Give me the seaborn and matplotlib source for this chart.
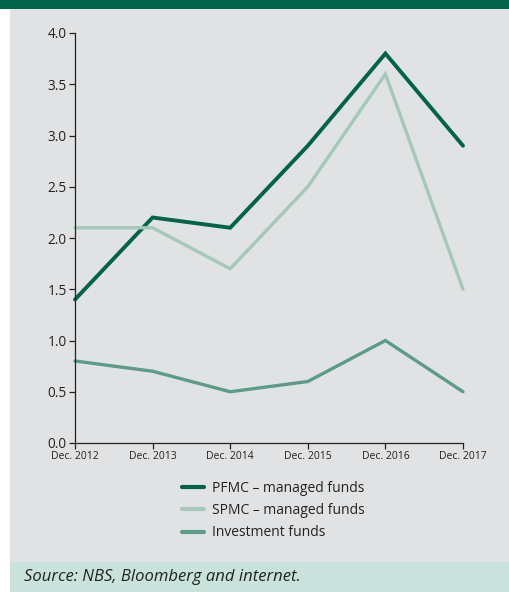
import matplotlib
matplotlib.use("Agg")
import matplotlib.pyplot as plt
import matplotlib.patches as mpatches
import seaborn as sns
import pandas as pd

years = ["Dec. 2012", "Dec. 2013", "Dec. 2014", "Dec. 2015", "Dec. 2016", "Dec. 2017"]
pfmc = [1.4, 2.2, 2.1, 2.9, 3.8, 2.9]
spmc = [2.1, 2.1, 1.7, 2.5, 3.6, 1.5]
invest = [0.8, 0.7, 0.5, 0.6, 1.0, 0.5]
series_names = ["PFMC \u2013 managed funds", "SPMC \u2013 managed funds", "Investment funds"]
y_ticks = [0.0, 0.5, 1.0, 1.5, 2.0, 2.5, 3.0, 3.5, 4.0]

colors = ["#006548", "#a4c8bb", "#5a9c87"]
widths = [2.8, 2.4, 2.4]

sns.set_theme(style="ticks")
plt.rcParams["font.family"] = ["Open Sans", "DejaVu Sans"]

df = pd.DataFrame({
    "x": list(range(len(years))) * 3,
    "value": pfmc + spmc + invest,
    "series": [series_names[0]] * 6 + [series_names[1]] * 6 + [series_names[2]] * 6,
})

W, H = 509, 592
fig = plt.figure(figsize=(W / 100, H / 100), dpi=100)
fig.patch.set_facecolor("white")

bg = "#e0e2e4"
# panel background
fig.patches.append(mpatches.Rectangle((10 / W, 0), 1 - 10 / W, 1, transform=fig.transFigure,
                                      facecolor=bg, edgecolor="none", zorder=-2))
# header band
fig.patches.append(mpatches.Rectangle((0, 1 - 9 / H), 1, 9 / H, transform=fig.transFigure,
                                      facecolor="#00654a", edgecolor="none", zorder=-1))
# source band
fig.patches.append(mpatches.Rectangle((10 / W, 0), 1 - 10 / W, 30 / H, transform=fig.transFigure,
                                      facecolor="#c9e2dc", edgecolor="none", zorder=-1))

ax = fig.add_axes([75 / W, 1 - 443 / H, (463 - 75) / W, (443 - 33) / H])
ax.set_zorder(5)
ax.set_facecolor("none")

sns.lineplot(data=df, x="x", y="value", hue="series", hue_order=series_names,
             palette=colors, ax=ax, legend=False, estimator=None, sort=False)
for line, lw in zip(ax.lines, widths):
    line.set_linewidth(lw)
    line.set_solid_joinstyle("miter")
    line.set_solid_capstyle("round")
    line.set_clip_on(False)

ax.set_xlim(0, len(years) - 1)
ax.set_ylim(0, 4.0)
ax.set_xticks(range(len(years)))
ax.set_xticklabels(years, fontsize=7.5, color="#222222")
ax.set_yticks(y_ticks)
ax.set_yticklabels([f"{v:.1f}" for v in y_ticks], fontsize=9.8, color="#222222")
ax.set_xlabel("")
ax.set_ylabel("")
for s in ["top", "right"]:
    ax.spines[s].set_visible(False)
for s in ["left", "bottom"]:
    ax.spines[s].set_color("#222222")
    ax.spines[s].set_linewidth(0.9)
ax.tick_params(axis="both", length=4, width=0.9, color="#222222", direction="out")
ax.tick_params(axis="x", pad=2)
ax.tick_params(axis="y", pad=2)

handles = [plt.Line2D([0], [0], color=c, lw=3) for c in colors]
leg = fig.legend(handles, series_names, loc="upper left", bbox_to_anchor=(182 / W, 1 - 481 / H),
                 frameon=False, fontsize=10, handlelength=1.6, handletextpad=0.55,
                 labelspacing=0.52, borderaxespad=0, borderpad=0)
for t in leg.get_texts():
    t.set_color("#222222")

fig.text(24 / W, 15 / H, "Source: NBS, Bloomberg and internet.", fontsize=12, style="italic",
         color="#222222", va="center", ha="left")

fig.savefig("out.png", dpi=100, facecolor=fig.get_facecolor())
